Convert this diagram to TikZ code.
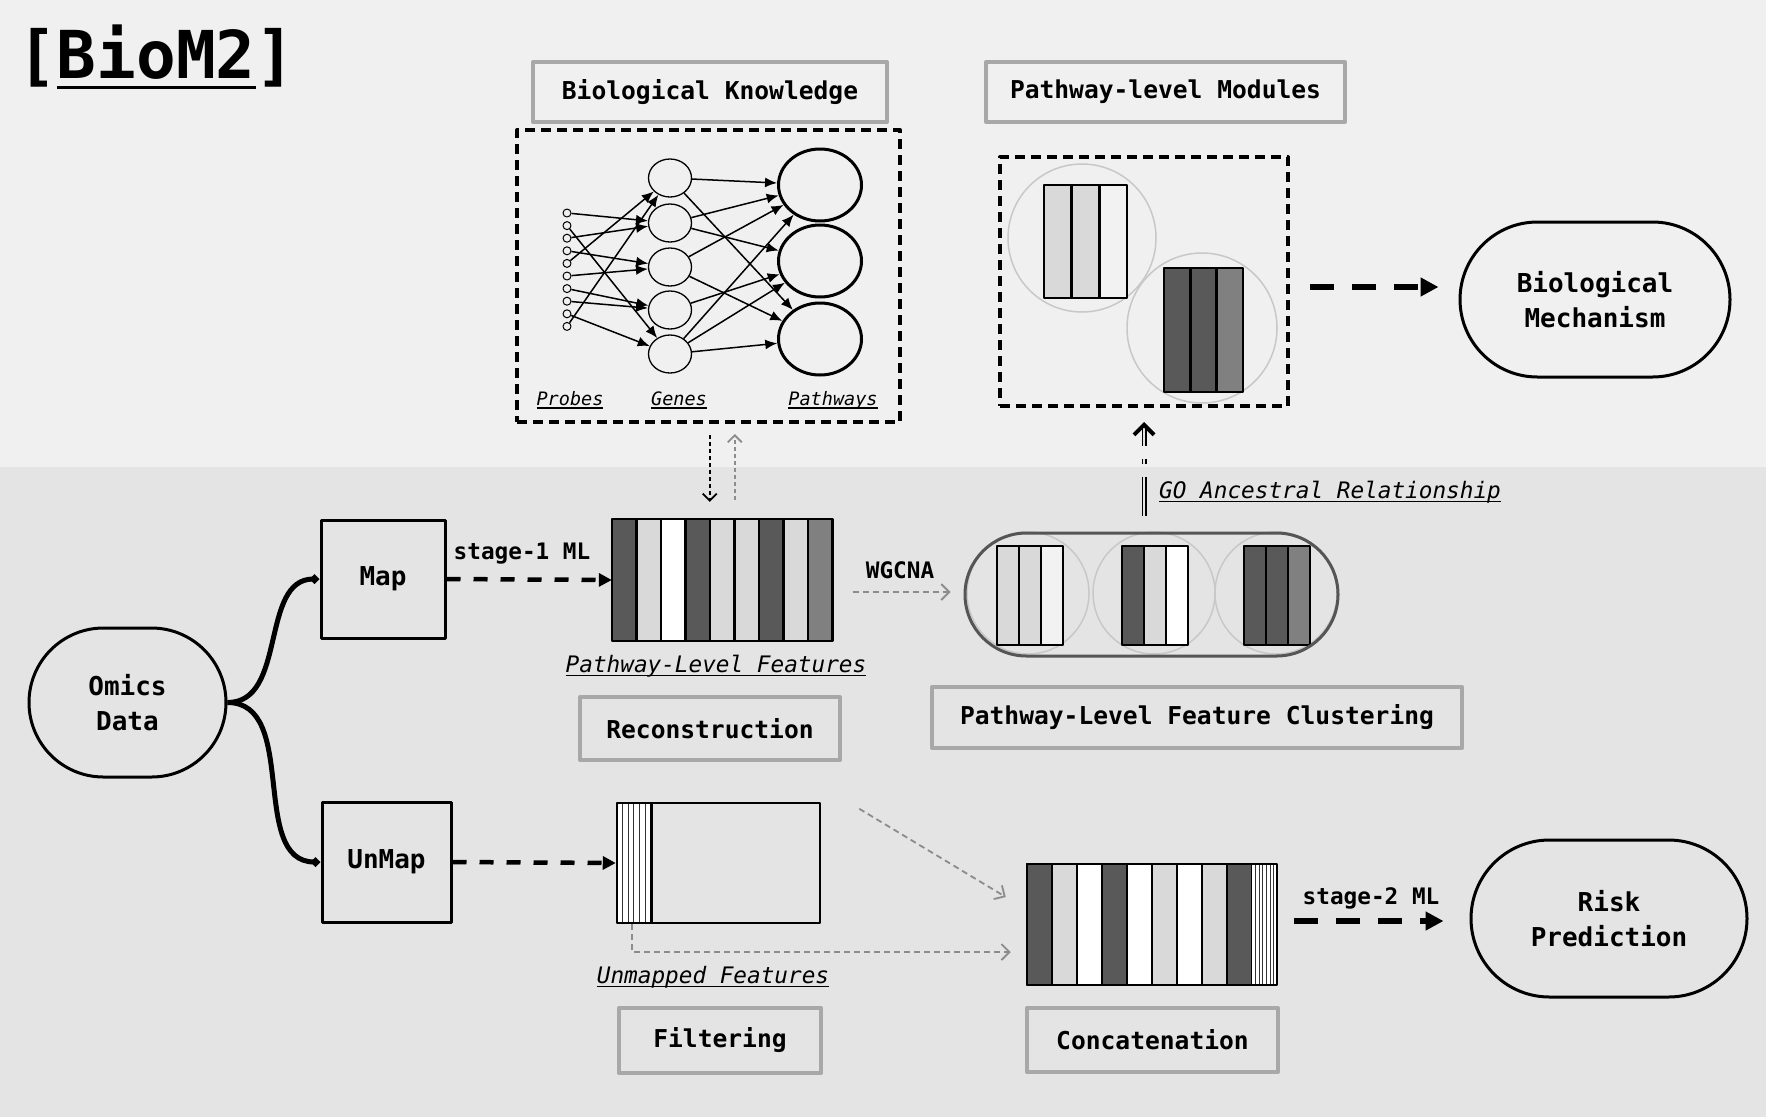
\documentclass[tikz,border=0pt]{standalone}
\usepackage{fontspec}
\setmonofont{DejaVu Sans Mono}
\usepackage{tikz}
\usetikzlibrary{arrows.meta,shapes.geometric,shapes.misc}
\usetikzlibrary{positioning}

\definecolor{bgtop}{HTML}{F0F0F0}
\definecolor{bgbot}{HTML}{E4E4E4}
\definecolor{cdark}{HTML}{595959}
\definecolor{clight}{HTML}{D9D9D9}
\definecolor{cpale}{HTML}{F2F2F2}
\definecolor{cmid}{HTML}{808080}
\definecolor{tagline}{HTML}{A8A8A8}
\definecolor{ringgray}{HTML}{C8C8C8}
\definecolor{clustline}{HTML}{555555}
\definecolor{gdash}{HTML}{8C8C8C}

\newcommand{\tagfont}{\ttfamily\bfseries\fontsize{24.6}{30}\selectfont}
\newcommand{\lblfont}{\ttfamily\bfseries\fontsize{22.7}{28}\selectfont}
\newcommand{\ovlfont}{\ttfamily\bfseries\fontsize{26}{35}\selectfont}
\newcommand{\itfont}{\ttfamily\itshape\fontsize{22.7}{28}\selectfont}
\newcommand{\smitfont}{\ttfamily\itshape\fontsize{18.5}{22}\selectfont}
\newcommand{\undln}[2][0.19em]{\setbox0\hbox{#2}\leavevmode\rlap{\vrule width \wd0 height -0.12em depth #1}\box0}

\begin{document}
\begin{tikzpicture}[x=1pt,y=-1pt,line join=round,
	tagbox/.style={draw=tagline,line width=4pt,font=\tagfont,inner sep=0pt},
	sqbox/.style={draw,line width=3pt,font=\ovlfont,inner sep=0pt},
	ovl/.style={rounded rectangle,draw,line width=3pt,font=\ovlfont,align=center,inner sep=0pt},
	dbox/.style={draw,line width=4pt,dash pattern=on 10pt off 6pt,inner sep=0pt},
	colbox/.style={draw,line width=2.5pt},
	probe/.style={circle,draw,line width=1pt,minimum size=8pt,inner sep=0pt},
	gene/.style={ellipse,draw,line width=1.3pt,minimum width=43pt,minimum height=38pt,inner sep=0pt},
	pway/.style={ellipse,draw,line width=3pt,minimum width=83pt,minimum height=72pt,inner sep=0pt},
	netarrow/.style={line width=1.5pt,-{Latex[length=12pt,width=10pt]}},
	netlbl/.style={font=\smitfont,anchor=base,inner sep=0pt},
	itlbl/.style={font=\itfont,anchor=base,inner sep=0pt},
	mlarrow/.style={line width=4.5pt,dash pattern=on 14pt off 13pt,-{Triangle[length=13pt,width=13pt]}},
	bigarrow/.style={line width=6pt,dash pattern=on 24pt off 18pt,-{Triangle[length=18pt,width=18pt]}},
	thindash/.style={line width=1.8pt,dash pattern=on 4pt off 3pt,-{Straight Barb[length=7pt,width=14pt,line width=1.8pt]}},
	gdasharrow/.style={gdash,line width=1.8pt,dash pattern=on 6pt off 4pt,-{Straight Barb[length=8pt,width=16pt,line width=1.8pt]}},
	branch/.style={line width=5pt,-{Diamond[length=10pt,width=10pt]}}]
	\useasboundingbox (0,0) rectangle (1766,1117);
	\fill[bgtop] (0,0) rectangle (1766,467);%fascia alta
	\fill[bgbot] (0,467) rectangle (1766,1117);%fascia bassa
	\node[anchor=base west,inner sep=0pt,font=\ttfamily\bfseries\fontsize{66}{70}\selectfont] (title) at (17,78) {[\undln[0.17em]{BioM2}]};
	% biological knowledge
	\node[tagbox,minimum width=354pt,minimum height=60pt] (tagbk) at (710,92) {Biological Knowledge};
	\node[dbox,minimum width=383pt,minimum height=292pt] (net) at (708.5,276) {};
	\foreach \i in {0,...,9}
		\node[probe] (p\i) at (567,{213+12.6*\i}) {};
	\foreach \i/\y in {0/178,1/223,2/267,3/310,4/354}
		\node[gene] (g\i) at (670,\y) {};
	\foreach \i/\y in {0/185,1/261,2/339}
		\node[pway] (w\i) at (820,\y) {};
	\foreach \a/\b in {0/1,2/1,1/4,3/2,5/2,4/0,9/0,6/3,7/3,8/4}
		\draw[netarrow] (p\a) -- (g\b);
	\foreach \a/\b in {0/0,0/2,1/0,1/1,2/0,2/2,3/1,4/0,4/1,4/2}
		\draw[netarrow] (g\a) -- (w\b);
	\node[netlbl] (lprobes) at (570,405) {\undln{Probes}};
	\node[netlbl] (lgenes) at (679,405) {\undln{Genes}};
	\node[netlbl] (lpways) at (833,405) {\undln{Pathways}};
	% pathway-level modules
	\node[tagbox,minimum width=359pt,minimum height=60pt] (tagmod) at (1165.5,92) {Pathway-level Modules};
	\draw[ringgray,line width=1.5pt] (1082,238) circle (74);
	\draw[ringgray,line width=1.5pt] (1202,328) circle (75);
	\foreach \c [count=\k from 0] in {clight,clight,cpale}
		\draw[colbox,fill=\c] ({1044+27.7*\k},185) rectangle ++(27.7,113);
	\foreach \c [count=\k from 0] in {cdark,cdark,cmid}
		\draw[colbox,fill=\c] ({1164+26.3*\k},268) rectangle ++(26.3,124);
	\node[dbox,minimum width=288pt,minimum height=249pt] (mods) at (1144,281.5) {};
	\node[ovl,minimum width=270pt,minimum height=155pt] (bio) at (1595,299.5) {Biological\\Mechanism};
	\draw[bigarrow,shorten <=20pt,shorten >=20pt] ([yshift=-5.5pt]mods.east) -- ([yshift=-5.5pt]mods.east -| bio.west);
	% omics data
	\node[ovl,minimum width=197pt,minimum height=149pt] (omics) at (127.5,702.5) {Omics\\Data};
	\node[sqbox,minimum width=124pt,minimum height=118pt] (map) at (383,579) {Map};
	\node[sqbox,minimum width=129pt,minimum height=120pt] (unmap) at (386.5,862) {UnMap};
	\draw[branch] (omics.east) to[out=0,in=180] (map.west);
	\draw[branch] (omics.east) to[out=0,in=180] (unmap.west);
	% pathway-level features
	\foreach \c [count=\k from 0] in {cdark,clight,white,cdark,clight,clight,cdark,clight,cmid}
		\draw[colbox,fill=\c] ({612+24.5*\k},519) rectangle ++(24.5,122);
	\node[inner sep=0pt,minimum width=220.5pt,minimum height=122pt] (feat) at (722.25,580) {};
	\draw[mlarrow] (map.east) -- (feat.west);
	\node[font=\lblfont,inner sep=0pt] (lml1) at (522,554) {stage-1 ML};
	\draw[thindash,shorten <=11pt,shorten >=17pt] ([xshift=-12.5pt]feat.north |- net.south) -- ([xshift=-12.5pt]feat.north);
	\draw[thindash,gdash,shorten <=19pt,shorten >=10pt] ([xshift=12.5pt]feat.north) -- ([xshift=12.5pt]feat.north |- net.south);
	\node[itlbl] (lfeat) at (716,672) {\undln{Pathway-Level Features}};
	\node[tagbox,minimum width=260pt,minimum height=63pt] (tagrec) at (710,728.5) {Reconstruction};
	% clustering
	\draw[ringgray,line width=1.5pt] (1028,593) circle (61);
	\draw[ringgray,line width=1.5pt] (1154,593) circle (61);
	\draw[ringgray,line width=1.5pt] (1276,593) circle (61);
	\foreach \c [count=\k from 0] in {clight,clight,cpale}
		\draw[colbox,fill=\c] ({997+22*\k},546) rectangle ++(22,99);
	\foreach \c [count=\k from 0] in {cdark,clight,white}
		\draw[colbox,fill=\c] ({1122+22*\k},546) rectangle ++(22,99);
	\foreach \c [count=\k from 0] in {cdark,cdark,cmid}
		\draw[colbox,fill=\c] ({1244+22*\k},546) rectangle ++(22,99);
	\node[rounded rectangle,draw=clustline,line width=3pt,minimum width=373pt,minimum height=123pt,inner sep=0pt] (clust) at (1151.5,594.5) {};
	\draw[gdasharrow,shorten <=20pt,shorten >=13pt] ([yshift=2.5pt]clust.west -| feat.east) -- ([yshift=2.5pt]clust.west);
	\node[font=\lblfont,inner sep=0pt] (lwgcna) at (900,570) {WGCNA};
	\node[tagbox,minimum width=530pt,minimum height=61pt] (tagclu) at (1197,717.5) {Pathway-Level Feature Clustering};
	\draw[double=bgbot,double distance=2pt,line width=1.5pt,dash pattern=on 39pt off 13pt on 5pt off 13pt,shorten <=16pt,shorten >=14pt,
		-{Straight Barb[length=10pt,width=20pt,line width=4pt]}] (mods.south |- clust.north) -- (mods.south);
	\node[itlbl,anchor=base west] (lgo) at (1159,498) {\undln{GO Ancestral Relationship}};
	% unmapped features
	\fill[white] (617,803) rectangle (651,923);
	\foreach \k in {1,...,5}
		\draw[black!80,line width=0.8pt] ({617+5.6*\k},803) -- ++(0,120);
	\draw[line width=3pt] (651,803) -- (651,923);
	\node[draw,line width=2.5pt,inner sep=0pt,minimum width=203pt,minimum height=120pt] (unm) at (718.5,863) {};
	\draw[mlarrow] (unmap.east) -- (unm.west);
	\node[itlbl] (lunm) at (713,983) {\undln{Unmapped Features}};
	\node[tagbox,minimum width=202pt,minimum height=65pt] (tagfil) at (720,1040.5) {Filtering};
	% concatenation
	\foreach \c [count=\k from 0] in {cdark,clight,white,cdark,white,clight,white,clight,cdark}
		\draw[colbox,fill=\c] ({1027+25*\k},864) rectangle ++(25,121);
	\fill[white] (1252,864) rectangle (1277,985);
	\foreach \k in {1,...,6}
		\draw[black!80,line width=0.7pt] ({1252+3.6*\k},864) -- ++(0,121);
	\node[draw,line width=2.5pt,inner sep=0pt,minimum width=250pt,minimum height=121pt] (concat) at (1152,924.5) {};
	\node[tagbox,minimum width=251pt,minimum height=64pt] (tagcon) at (1152.5,1040) {Concatenation};
	\draw[gdasharrow] ([xshift=16pt]unm.south west) |- ([xshift=-15pt,yshift=-27.5pt]concat.west);
	\draw[gdasharrow] ([xshift=38pt,yshift=-7pt]unm.north east) -- ([xshift=-20pt,yshift=27.5pt]concat.west);
	\node[ovl,minimum width=276pt,minimum height=157pt] (risk) at (1609,918.5) {Risk\\Prediction};
	\draw[bigarrow,shorten <=16pt,shorten >=26pt] ([yshift=-2.5pt]risk.west -| concat.east) -- ([yshift=-2.5pt]risk.west);
	\node[font=\lblfont,inner sep=0pt] (lml2) at (1371,898) {stage-2 ML};
\end{tikzpicture}
\end{document}
